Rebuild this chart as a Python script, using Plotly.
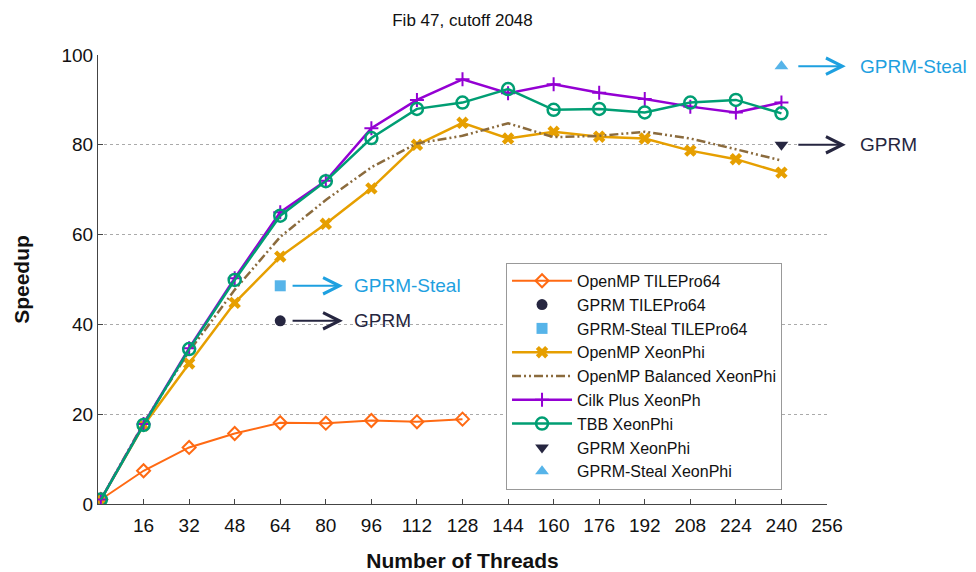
import plotly.graph_objects as go

# ---------------- data ----------------
tile_threads = [1, 16, 32, 48, 64, 80, 96, 112, 128]
openmp_tile = [1.0, 7.4, 12.6, 15.7, 18.1, 18.0, 18.6, 18.3, 18.9]

gprm_tile_x = [64]
gprm_tile_y = [40.8]
gprm_steal_tile_x = [64]
gprm_steal_tile_y = [48.6]

xeon_threads = [1, 16, 32, 48, 64, 80, 96, 112, 128, 144, 160, 176, 192, 208, 224, 240]
openmp_xeon = [1.0, 17.5, 31.3, 44.8, 55.1, 62.4, 70.3, 80.0, 84.9, 81.4, 82.9, 81.8, 81.4, 78.7, 76.8, 73.8]
openmp_bal_xeon = [1.0, 18.0, 34.0, 47.7, 59.5, 67.7, 75.0, 80.3, 82.0, 84.8, 81.7, 82.0, 82.9, 81.4, 79.0, 76.5]
cilk_xeon = [1.0, 17.8, 34.7, 50.3, 65.0, 72.0, 83.7, 90.0, 94.6, 91.5, 93.5, 91.6, 90.2, 88.5, 87.2, 89.4]
tbb_xeon = [1.0, 17.6, 34.5, 49.9, 64.2, 71.9, 81.5, 88.0, 89.4, 92.4, 87.8, 88.0, 87.2, 89.4, 90.0, 87.0]

gprm_xeon_x = [240]
gprm_xeon_y = [80.0]
gprm_steal_xeon_x = [240]
gprm_steal_xeon_y = [97.5]

x_ticks = [16, 32, 48, 64, 80, 96, 112, 128, 144, 160, 176, 192, 208, 224, 240, 256]
y_ticks = [0, 20, 40, 60, 80, 100]

# annotation positions
tile_arrow_tail, tile_arrow_head, tile_text_x = 67.8, 86.0, 89.2     # data x
xeon_arrow_tail, xeon_arrow_head = 245.4, 262.6                       # data x
xeon_text_paper_x = 1.0425                                             # paper x

# ---------------- styles ----------------
C_TILE = "#ff6a13"
C_NAVY = "#262640"
C_SKY = "#56b4e9"
C_SKYTXT = "#1ea0e0"
C_GOLD = "#e69f00"
C_BROWN = "#8b6b3d"
C_PURPLE = "#9400d3"
C_GREEN = "#009e73"
FONT = "Liberation Sans, Arial, sans-serif"

fig = go.Figure()

fig.add_trace(go.Scatter(x=tile_threads, y=openmp_tile, name="OpenMP TILEPro64",
                         mode="lines+markers", line=dict(color=C_TILE, width=2),
                         marker=dict(symbol="diamond-open", size=10, line=dict(width=2, color=C_TILE))))
fig.add_trace(go.Scatter(x=gprm_tile_x, y=gprm_tile_y, name="GPRM TILEPro64", mode="markers",
                         marker=dict(symbol="circle", size=11, color=C_NAVY)))
fig.add_trace(go.Scatter(x=gprm_steal_tile_x, y=gprm_steal_tile_y, name="GPRM-Steal TILEPro64", mode="markers",
                         marker=dict(symbol="square", size=11, color=C_SKY)))
fig.add_trace(go.Scatter(x=xeon_threads, y=openmp_xeon, name="OpenMP XeonPhi",
                         mode="lines+markers", line=dict(color=C_GOLD, width=2.5),
                         marker=dict(symbol="x", size=11, color=C_GOLD)))
fig.add_trace(go.Scatter(x=xeon_threads, y=openmp_bal_xeon, name="OpenMP Balanced XeonPhi",
                         mode="lines", line=dict(color=C_BROWN, width=2.5, dash="9px,3px,2px,3px,2px,3px")))
fig.add_trace(go.Scatter(x=xeon_threads, y=cilk_xeon, name="Cilk Plus XeonPh",
                         mode="lines+markers", line=dict(color=C_PURPLE, width=2.5),
                         marker=dict(symbol="cross-thin-open", size=10, line=dict(width=2, color=C_PURPLE))))
fig.add_trace(go.Scatter(x=xeon_threads, y=tbb_xeon, name="TBB XeonPhi",
                         mode="lines+markers", line=dict(color=C_GREEN, width=2.5),
                         marker=dict(symbol="circle-open", size=12, line=dict(width=2.5, color=C_GREEN))))
fig.add_trace(go.Scatter(x=gprm_xeon_x, y=gprm_xeon_y, name="GPRM XeonPhi", mode="markers",
                         marker=dict(symbol="triangle-down", size=12, color=C_NAVY)))
fig.add_trace(go.Scatter(x=gprm_steal_xeon_x, y=gprm_steal_xeon_y, name="GPRM-Steal XeonPhi", mode="markers",
                         marker=dict(symbol="triangle-up", size=12, color=C_SKY)))

# arrows + labels
def arrow(x_tail, x_head, y, color):
    fig.add_annotation(x=x_head, y=y, ax=x_tail, ay=y, xref="x", yref="y", axref="x", ayref="y",
                       text="", showarrow=True, arrowhead=5, arrowsize=1.6, arrowwidth=2,
                       arrowcolor=color)

def label(x, y, txt, color, xref="x"):
    fig.add_annotation(x=x, y=y, xref=xref, yref="y", text=txt, showarrow=False,
                       xanchor="left", yanchor="middle", font=dict(size=19, color=color, family=FONT))

arrow(tile_arrow_tail, tile_arrow_head, gprm_steal_tile_y[0], C_SKYTXT)
label(tile_text_x, gprm_steal_tile_y[0], "GPRM-Steal", C_SKYTXT)
arrow(tile_arrow_tail, tile_arrow_head, gprm_tile_y[0], C_NAVY)
label(tile_text_x, gprm_tile_y[0], "GPRM", C_NAVY)
arrow(xeon_arrow_tail, xeon_arrow_head, gprm_steal_xeon_y[0], C_SKYTXT)
label(xeon_text_paper_x, gprm_steal_xeon_y[0], "GPRM-Steal", C_SKYTXT, xref="paper")
arrow(xeon_arrow_tail, xeon_arrow_head, gprm_xeon_y[0], C_NAVY)
label(xeon_text_paper_x, gprm_xeon_y[0], "GPRM", C_NAVY, xref="paper")

fig.update_layout(
    width=976, height=572,
    margin=dict(l=98, r=149, t=55, b=68),
    paper_bgcolor="white", plot_bgcolor="white",
    font=dict(family=FONT, size=19, color="#111111"),
    title=dict(text="Fib 47, cutoff 2048", x=(98 + 827) / 2 / 976, xanchor="center",
               y=1 - 20 / 572, yref="container", yanchor="middle",
               font=dict(family=FONT, size=17)),
    legend=dict(x=0.5597, y=0.537, xanchor="left", yanchor="top",
                bgcolor="white", bordercolor="#999999", borderwidth=1,
                font=dict(size=16, family=FONT), tracegroupgap=0, itemwidth=60),
    showlegend=True,
)

fig.update_xaxes(range=[0, 256], tickvals=x_ticks, ticktext=[str(t) for t in x_ticks],
                 showline=True, linecolor="#444444", linewidth=1, ticks="inside", ticklen=5,
                 tickcolor="#444444", showgrid=False, zeroline=False, ticklabelstandoff=4,
                 automargin=False,
                 title=dict(text="<b>Number of Threads</b>", font=dict(size=21), standoff=20),
                 tickfont=dict(size=19))
fig.update_yaxes(range=[0, 100], tickvals=y_ticks,
                 showline=True, linecolor="#444444", linewidth=1, ticks="inside", ticklen=5,
                 tickcolor="#444444", showgrid=True, gridcolor="#aaaaaa", griddash="dot", gridwidth=1,
                 zeroline=False, automargin=False,
                 title=dict(text="<b>Speedup</b>", font=dict(size=21), standoff=26),
                 tickfont=dict(size=19))

fig.write_html("out.html")
